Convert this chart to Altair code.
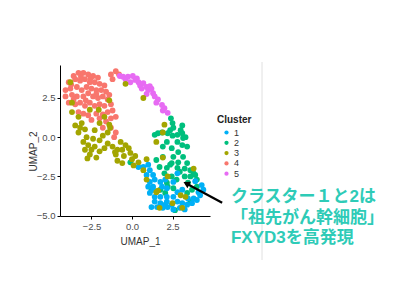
import altair as alt
import pandas as pd

# ---- data (UMAP coordinates) ----
c4_x = [-3.6,-3.3,-3.0,-2.7,-2.4,-2.1,-3.9,-3.5,-3.2,-2.9,-2.6,-2.3,-2.0,-1.7,
        -4.1,-3.8,-3.4,-3.1,-2.8,-2.5,-2.2,-1.9,-1.6,-4.1,-3.7,-3.4,-3.0,-2.7,-2.4,-2.1,-1.8,-1.5,
        -3.9,-3.5,-3.2,-2.9,-2.6,-2.3,-2.0,-1.7,-1.3,-3.3,-3.0,-2.7,-2.2,-1.8,-1.5,-1.2,
        -2.5,-2.0,-1.6,-1.3,-1.0,-1.8,-1.3,-1.0,-1.1,-1.3,-1.0,-0.8,-1.2,
        -3.75,-3.15,-2.55,-2.2,-3.6,-2.85,-1.4]
c4_y = [3.9,4.1,4.1,4.0,3.9,3.8,3.5,3.7,3.6,3.7,3.5,3.5,3.4,3.3,
        3.0,3.1,3.2,3.0,3.2,3.1,3.0,3.0,2.9,2.6,2.7,2.6,2.6,2.8,2.6,2.5,2.6,2.4,
        2.2,2.1,2.2,2.0,2.2,2.0,2.1,2.0,2.1,1.6,1.5,1.4,1.5,1.45,1.6,1.7,
        1.1,1.2,1.0,1.2,1.3,0.6,0.6,0.3,0.0,4.0,4.2,4.0,3.7,
        3.35,3.85,3.75,2.75,2.4,2.35,2.7]

c5_x = [-0.75,-0.55,-0.4,-0.25,-0.1,0.05,0.2,0.3,0.4,0.5,0.7,0.6,0.9,1.1,1.0,1.2,
        1.3,1.4,0.9,1.6,1.5,1.85,1.9,2.0,2.2]
c5_y = [3.9,3.85,3.7,3.85,3.5,3.9,3.65,3.75,3.5,3.3,3.45,3.1,3.2,3.25,3.0,3.1,
        2.8,2.6,2.75,2.4,2.2,2.05,1.7,1.85,1.55]

c2_x = [2.5,2.35,2.55,3.0,3.1,2.8,2.5,2.2,1.6,3.15,2.8,3.1,2.45,2.15,2.85,2.55,3.15,
        2.45,2.85,3.4,2.15,2.8,2.4,3.1,3.3,3.4,1.5,1.9,1.7,2.35,2.95,2.45,2.75,3.25,
        3.6,3.8,4.0,3.45,2.15,2.2,1.75,2.05,2.55,3.7,4.0,3.4,2.65,3.6,1.2,3.25,3.6,
        3.9,-0.1,1.9,2.0,1.85,1.4]
c2_y = [0.9,0.45,0.6,0.45,0.25,0.15,0.1,0.25,0.25,-0.05,-0.3,-0.5,-0.7,-0.3,-0.95,
        -1.25,-1.25,-1.65,-1.6,-1.65,-1.95,-1.95,1.2,0.75,0.0,-0.6,-1.45,-1.25,-1.9,
        -1.75,-2.2,-2.5,-2.7,-2.5,-2.5,-2.3,-2.7,-2.9,-2.9,-3.15,-3.35,-3.55,-3.25,
        -3.35,-3.15,-3.55,-4.65,-4.1,-3.35,-2.0,-2.1,-2.4,-1.6,-0.6,-2.3,0.3,0.15]

c1_x = [0.7,1.0,1.1,0.9,1.3,1.1,1.4,1.75,2.05,1.3,1.85,1.1,1.4,1.75,2.15,2.55,1.4,
        1.75,2.15,2.45,2.8,3.1,3.4,3.7,4.0,4.2,4.4,4.3,4.1,1.55,1.9,2.2,2.95,3.25,
        2.8,3.1,2.55,2.15,2.05,1.2,1.3,1.0,3.8,3.45,2.55,0.4,2.8,3.9]
c1_y = [-1.9,-1.75,-2.1,-2.4,-2.4,-2.85,-2.7,-2.85,-2.7,-3.15,-3.15,-3.55,-3.8,-3.8,
        -3.8,-3.8,-4.1,-4.2,-4.1,-4.3,-4.1,-4.2,-4.3,-4.2,-4.0,-3.7,-3.35,-3.05,-3.5,
        -4.45,-4.5,-4.45,-4.5,-4.6,-3.5,-3.35,-2.85,-3.25,-4.3,-4.45,-3.35,-3.15,-3.9,
        -3.9,-4.6,-1.9,-2.3,-2.8]

c3_x = [-3.8,-3.7,-3.7,-3.3,-2.6,-2.05,-1.4,-1.7,-3.1,-2.9,-2.8,-3.0,-2.7,-2.9,-2.5,
        -2.3,-2.0,-2.2,-2.6,-2.0,-1.8,-1.5,-1.4,-1.5,-1.2,-0.9,-1.0,-0.6,-0.4,-0.2,
        -0.1,-0.5,-0.9,0.0,0.2,0.4,0.9,0.1,0.7,0.9,1.6,-0.4,0.7,1.9,1.5,2.0,1.9,3.8,
        2.2,1.5,1.7,3.0,3.3,2.5,3.1,-3.3,-2.4,-2.75,-1.7,-0.7,-2.3,-3.5,-3.2,-2.0,
        -1.35,-1.05,-0.6]
c3_y = [3.5,2.2,1.6,1.3,1.75,1.75,2.35,1.3,0.9,0.5,0.0,-0.3,-0.5,-0.8,-0.8,-0.6,
        -0.9,-1.3,-1.1,-0.2,0.1,0.3,0.8,-0.4,-0.6,-0.8,-1.1,-0.8,-0.5,-0.7,-1.0,-1.2,
        -1.5,-1.4,-1.2,-1.6,-1.4,-1.8,-2.1,-2.7,-3.4,3.4,2.5,0.3,-0.3,0.8,-1.3,-2.0,
        -2.5,-3.5,-4.5,-3.7,-3.8,-4.2,-4.5,0.3,-0.1,-1.35,-0.7,-0.3,0.45,0.75,0.6,0.9,
        0.6,-0.95,-1.65]

clusters = ["1", "2", "3", "4", "5"]
colors = ["#00B0F6", "#00BF7D", "#A3A500", "#F8766D", "#E76BF3"]

# annotation (data coordinates)
arrow_tail = [5.56, -4.18]
arrow_head = [3.35, -2.95]
arrow_tip_angle = 298
note_lines = ["クラスター１と2は", "「祖先がん幹細胞」", "FXYD3を高発現"]
note_x = 6.1
note_y = -3.8  # first line

rows = []
for lab, xs_, ys_ in [("4", c4_x, c4_y), ("5", c5_x, c5_y), ("2", c2_x, c2_y),
                      ("1", c1_x, c1_y), ("3", c3_x, c3_y)]:
    for a, b in zip(xs_, ys_):
        rows.append({"UMAP_1": a, "UMAP_2": b, "Cluster": lab})
df = pd.DataFrame(rows)

xs = alt.Scale(domain=[-4.44, 4.81], nice=False, zero=False)
ys = alt.Scale(domain=[-5.02, 4.6], nice=False, zero=False)

axis_common = dict(grid=False, domainColor="black", tickColor="black", tickSize=3,
                   labelColor="#4D4D4D", labelFontSize=9.5, labelFont="Liberation Sans",
                   titleFont="Liberation Sans", titleFontSize=10, titleFontWeight="normal",
                   titleColor="#333333")

points = alt.Chart(df).mark_circle(size=34, opacity=1).encode(
    x=alt.X("UMAP_1:Q", scale=xs, title="UMAP_1",
            axis=alt.Axis(values=[-2.5, 0.0, 2.5], format=".1f", labelPadding=2,
                          titleX=80, titleY=25, titleBaseline="middle", **axis_common)),
    y=alt.Y("UMAP_2:Q", scale=ys, title="UMAP_2",
            axis=alt.Axis(values=[-5.0, -2.5, 0.0, 2.5], format=".1f", labelPadding=2,
                          titleX=-27, titleY=86, titleAngle=-90, titleBaseline="middle",
                          titleAlign="center", **axis_common)),
    color=alt.Color("Cluster:N", scale=alt.Scale(domain=clusters, range=colors),
                    legend=alt.Legend(orient="none", legendX=157, legendY=50,
                                      titleFontSize=10, titleFontWeight="bold",
                                      titleFont="Liberation Sans", titleColor="#222222",
                                      labelFontSize=9, labelFont="Liberation Sans",
                                      labelColor="#333333", symbolType="circle",
                                      symbolSize=18, symbolStrokeWidth=0,
                                      symbolOffset=5, labelOffset=3, rowPadding=0.3,
                                      titlePadding=3, padding=0)),
)

arrow_df = pd.DataFrame({"x": [arrow_tail[0]], "y": [arrow_tail[1]],
                         "x2": [arrow_head[0]], "y2": [arrow_head[1]]})
arrow = alt.Chart(arrow_df).mark_rule(color="black", strokeWidth=2.3, clip=False).encode(
    x=alt.X("x:Q", scale=xs, title="UMAP_1"), y=alt.Y("y:Q", scale=ys, title="UMAP_2"),
    x2="x2:Q", y2="y2:Q")
tip = alt.Chart(arrow_df).mark_point(shape="triangle-up", filled=True, color="black",
                                     size=55, opacity=1, angle=arrow_tip_angle,
                                     clip=False).encode(
    x=alt.X("x2:Q", scale=xs, title="UMAP_1"), y=alt.Y("y2:Q", scale=ys, title="UMAP_2"))

sep = alt.Chart(pd.DataFrame({"a": [0]})).mark_rule(color="#E0E0E0", strokeWidth=1).encode(
    x=alt.value(202), y=alt.value(-3), y2=alt.value(195))

note_df = pd.DataFrame({"t": ["\n".join(note_lines)], "x": [note_x], "y": [note_y]})
note = alt.Chart(note_df).mark_text(align="left", baseline="middle", fontSize=17,
                                    lineBreak="\n", lineHeight=20.7,
                                    fontWeight="bold",
                                    font="Liberation Sans, Noto Sans CJK JP",
                                    color="#2ECBB7", clip=False).encode(
    x=alt.X("x:Q", scale=xs, title="UMAP_1"), y=alt.Y("y:Q", scale=ys, title="UMAP_2"),
    text="t:N")

chart = alt.layer(sep, points, arrow, tip, note).properties(
    width=150, height=151,
    autosize=alt.AutoSizeParams(type="none"),
    padding={"left": 60, "top": 65, "right": 190, "bottom": 84},
    background="white",
).configure_view(stroke=None)

chart.save("out.html", embed_options={"renderer": "svg", "actions": False})
